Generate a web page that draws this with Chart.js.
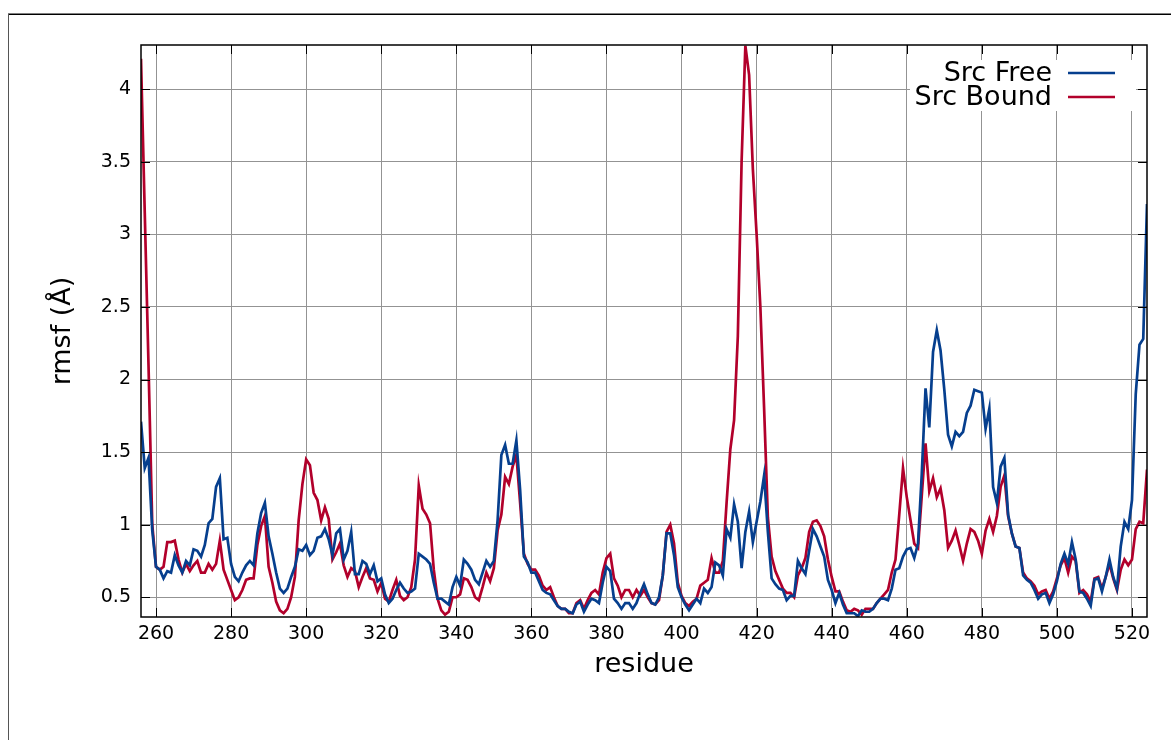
<!DOCTYPE html>
<html><head><meta charset="utf-8">
<script src="https://cdn.jsdelivr.net/npm/chart.js@4/dist/chart.umd.min.js"></script>
<style>html,body{margin:0;padding:0;background:#fff;}canvas{display:block;}</style>
</head><body>
<canvas id="c" width="1171" height="740"></canvas>
<script>
// ---- data ----
const firstResidue = 256;
const srcFree = [
  1.71, 1.39, 1.46, 0.96,
  0.71, 0.69, 0.63, 0.68, 0.67, 0.79, 0.72, 0.67, 0.75, 0.72,
  0.83, 0.82, 0.78, 0.86, 1.01, 1.04, 1.26, 1.32, 0.90, 0.91,
  0.73, 0.64, 0.61, 0.67, 0.72, 0.75, 0.72, 0.94, 1.08, 1.15,
  0.92, 0.80, 0.67, 0.56, 0.53, 0.56, 0.64, 0.71, 0.83, 0.82,
  0.86, 0.79, 0.82, 0.91, 0.92, 0.97, 0.90, 0.79, 0.94, 0.97,
  0.76, 0.82, 0.95, 0.66, 0.66, 0.75, 0.73, 0.66, 0.72, 0.61,
  0.63, 0.52, 0.46, 0.49, 0.55, 0.60, 0.56, 0.53, 0.54, 0.56,
  0.80, 0.78, 0.76, 0.73, 0.60, 0.49, 0.49, 0.47, 0.45, 0.57,
  0.64, 0.58, 0.76, 0.73, 0.69, 0.62, 0.59, 0.67, 0.75, 0.71,
  0.75, 1.03, 1.48, 1.55, 1.42, 1.42, 1.58, 1.24, 0.78, 0.74,
  0.67, 0.67, 0.61, 0.55, 0.53, 0.52, 0.48, 0.44, 0.42, 0.42,
  0.40, 0.39, 0.45, 0.47, 0.40, 0.45, 0.49, 0.48, 0.46, 0.60,
  0.71, 0.68, 0.49, 0.46, 0.42, 0.46, 0.46, 0.42, 0.46, 0.53,
  0.59, 0.52, 0.46, 0.45, 0.50, 0.65, 0.94, 0.94, 0.79, 0.57,
  0.50, 0.45, 0.41, 0.45, 0.49, 0.46, 0.56, 0.53, 0.57, 0.74,
  0.72, 0.65, 0.97, 0.91, 1.14, 1.02, 0.70, 0.95, 1.09, 0.88,
  1.02, 1.16, 1.34, 0.95, 0.63, 0.59, 0.56, 0.55, 0.48, 0.51,
  0.51, 0.75, 0.70, 0.66, 0.82, 0.97, 0.92, 0.85, 0.78, 0.62,
  0.55, 0.46, 0.53, 0.45, 0.39, 0.39, 0.39, 0.37, 0.41, 0.40,
  0.40, 0.42, 0.46, 0.49, 0.49, 0.48, 0.56, 0.69, 0.70, 0.78,
  0.83, 0.84, 0.77, 0.87, 1.35, 1.94, 1.67, 2.19, 2.34, 2.20,
  1.93, 1.62, 1.54, 1.64, 1.61, 1.64, 1.77, 1.82, 1.93, 1.92,
  1.91, 1.66, 1.80, 1.26, 1.15, 1.40, 1.46, 1.07, 0.94, 0.85,
  0.84, 0.65, 0.62, 0.60, 0.55, 0.49, 0.52, 0.53, 0.46, 0.52,
  0.61, 0.73, 0.80, 0.73, 0.88, 0.76, 0.54, 0.53, 0.49, 0.44,
  0.62, 0.63, 0.54, 0.64, 0.76, 0.64, 0.56, 0.85, 1.02, 0.97,
  1.17, 1.90, 2.24, 2.28, 3.21
];
const srcBound = [
  4.21, 3.15, 2.10, 1.00,
  0.71, 0.69, 0.71, 0.88, 0.88, 0.89, 0.76, 0.67, 0.73, 0.68,
  0.72, 0.75, 0.67, 0.67, 0.73, 0.69, 0.73, 0.89, 0.69, 0.62,
  0.55, 0.48, 0.50, 0.55, 0.62, 0.63, 0.63, 0.86, 0.99, 1.06,
  0.71, 0.60, 0.47, 0.41, 0.39, 0.42, 0.50, 0.64, 1.03, 1.28,
  1.45, 1.41, 1.22, 1.17, 1.03, 1.12, 1.04, 0.76, 0.81, 0.87,
  0.72, 0.64, 0.70, 0.68, 0.57, 0.64, 0.70, 0.63, 0.62, 0.54,
  0.60, 0.49, 0.47, 0.55, 0.62, 0.51, 0.48, 0.50, 0.57, 0.76,
  1.27, 1.11, 1.07, 1.01, 0.69, 0.49, 0.41, 0.38, 0.40, 0.50,
  0.50, 0.52, 0.63, 0.62, 0.57, 0.50, 0.48, 0.57, 0.67, 0.61,
  0.70, 0.96, 1.07, 1.33, 1.28, 1.40, 1.48, 1.15, 0.80, 0.73,
  0.69, 0.69, 0.65, 0.58, 0.55, 0.57, 0.50, 0.44, 0.42, 0.42,
  0.39, 0.39, 0.46, 0.48, 0.42, 0.48, 0.53, 0.55, 0.52, 0.67,
  0.77, 0.80, 0.63, 0.58, 0.50, 0.55, 0.55, 0.50, 0.55, 0.51,
  0.55, 0.50, 0.46, 0.45, 0.48, 0.65, 0.95, 1.00, 0.87, 0.60,
  0.51, 0.46, 0.44, 0.47, 0.49, 0.58, 0.60, 0.62, 0.77, 0.67,
  0.67, 0.75, 1.15, 1.52, 1.72, 2.30, 3.50, 4.30, 4.10, 3.45,
  3.00, 2.50, 1.80, 1.05, 0.78, 0.68, 0.62, 0.56, 0.53, 0.53,
  0.50, 0.65, 0.70, 0.77, 0.95, 1.02, 1.03, 0.99, 0.92, 0.76,
  0.64, 0.54, 0.54, 0.47, 0.41, 0.40, 0.42, 0.41, 0.38, 0.42,
  0.42, 0.42, 0.46, 0.49, 0.52, 0.55, 0.67, 0.76, 1.07, 1.39,
  1.19, 1.03, 0.87, 0.84, 1.20, 1.56, 1.23, 1.32, 1.19, 1.25,
  1.10, 0.84, 0.89, 0.96, 0.86, 0.75, 0.87, 0.97, 0.95, 0.89,
  0.80, 0.96, 1.04, 0.95, 1.06, 1.26, 1.34, 1.06, 0.94, 0.85,
  0.84, 0.67, 0.63, 0.61, 0.58, 0.52, 0.54, 0.55, 0.49, 0.54,
  0.63, 0.72, 0.77, 0.67, 0.78, 0.75, 0.53, 0.55, 0.52, 0.47,
  0.63, 0.64, 0.56, 0.64, 0.73, 0.63, 0.55, 0.69, 0.76, 0.72,
  0.76, 0.97, 1.02, 1.01, 1.38
];
const residues = srcFree.map((_, i) => firstResidue + i);
const xTickValues = [260, 280, 300, 320, 340, 360, 380, 400, 420, 440, 460, 480, 500, 520];
const yTickValues = [0.5, 1, 1.5, 2, 2.5, 3, 3.5, 4];
const seriesLabels = ['Src Free', 'Src Bound'];
const xAxisTitle = 'residue';
const yAxisTitle = 'rmsf (Å)';
const xRange = [256, 524];
const yRange = [0.364, 4.305];

// ---- style ----
const FONT = 'DejaVu Sans';
const BLUE = '#063f8e';
const RED = '#b2002b';
const GRID = '#939393';

const pageFrame = {
  id: 'pageFrame',
  beforeDraw(chart) {
    const ctx = chart.ctx;
    ctx.save();
    ctx.fillStyle = '#fff';
    ctx.fillRect(0, 0, chart.width, chart.height);
    ctx.strokeStyle = '#000';
    ctx.lineWidth = 1.5;
    ctx.beginPath();
    ctx.moveTo(8, 14.25); ctx.lineTo(chart.width, 14.25);
    ctx.stroke();
    ctx.strokeStyle = '#555';
    ctx.lineWidth = 1;
    ctx.beginPath();
    ctx.moveTo(8.5, 14); ctx.lineTo(8.5, chart.height);
    ctx.stroke();
    ctx.restore();
  }
};

const borderTicks = {
  id: 'borderTicks',
  afterDatasetsDraw(chart) {
    const {ctx, chartArea: a, scales: {x, y}} = chart;
    ctx.save();
    ctx.strokeStyle = '#000';
    ctx.lineWidth = 1;
    ctx.beginPath();
    const L = 9;
    for (const t of x.ticks) {
      const px = Math.round(x.getPixelForValue(t.value)) + 0.5;
      ctx.moveTo(px, a.bottom); ctx.lineTo(px, a.bottom - L);
      ctx.moveTo(px, a.top); ctx.lineTo(px, a.top + L);
    }
    for (const t of y.ticks) {
      const py = Math.round(y.getPixelForValue(t.value)) + 0.5;
      ctx.moveTo(a.left, py); ctx.lineTo(a.left + L, py);
      ctx.moveTo(a.right, py); ctx.lineTo(a.right - L, py);
    }
    ctx.stroke();
    ctx.lineWidth = 1.5;
    ctx.strokeRect(a.left, a.top, a.right - a.left, a.bottom - a.top);
    ctx.restore();
  }
};

const keyBox = {
  id: 'keyBox',
  afterDraw(chart) {
    const {ctx, chartArea: a} = chart;
    ctx.save();
    ctx.fillStyle = '#fff';
    ctx.fillRect(a.right - 237, a.top + 15, 226, 51);
    ctx.font = '27px "' + FONT + '"';
    ctx.textAlign = 'right';
    ctx.textBaseline = 'middle';
    chart.data.datasets.forEach((ds, i) => {
      const yy = a.top + 28 + i * 24;
      ctx.fillStyle = '#000';
      ctx.fillText(ds.label, a.right - 95, yy + 1);
      ctx.strokeStyle = ds.borderColor;
      ctx.lineWidth = 2.6;
      ctx.beginPath();
      ctx.moveTo(a.right - 79, yy); ctx.lineTo(a.right - 32, yy);
      ctx.stroke();
    });
    ctx.restore();
  }
};

function pts(vals) { return vals.map((v, i) => ({x: residues[i], y: v})); }

new Chart(document.getElementById('c'), {
  type: 'line',
  data: {
    datasets: [
      {label: seriesLabels[0], data: pts(srcFree), borderColor: BLUE, backgroundColor: BLUE,
       borderWidth: 2.7, pointRadius: 0, tension: 0, fill: false},
      {label: seriesLabels[1], data: pts(srcBound), borderColor: RED, backgroundColor: RED,
       borderWidth: 2.7, pointRadius: 0, tension: 0, fill: false}
    ]
  },
  options: {
    responsive: false,
    animation: false,
    devicePixelRatio: 1,
    layout: {padding: {left: 0, right: 24, top: 45, bottom: 0}},
    plugins: {legend: {display: false}, tooltip: {enabled: false}},
    scales: {
      x: {
        type: 'linear', min: xRange[0], max: xRange[1],
        afterBuildTicks: s => { s.ticks = xTickValues.map(v => ({value: v})); },
        afterFit: s => { s.height = 123; s.paddingLeft = 0; s.paddingRight = 0; },
        grid: {color: GRID, lineWidth: 1, drawTicks: false},
        border: {display: false},
        ticks: {color: '#000', font: {family: FONT, size: 19}, padding: 6, maxRotation: 0,
                autoSkip: false, callback: v => String(v)},
        title: {display: true, text: xAxisTitle, color: '#000',
                font: {family: FONT, size: 27}, padding: {top: 0, bottom: 59}}
      },
      y: {
        type: 'linear', min: yRange[0], max: yRange[1],
        afterBuildTicks: s => { s.ticks = yTickValues.map(v => ({value: v})); },
        afterFit: s => { s.width = 141; s.paddingTop = 0; s.paddingBottom = 0; },
        grid: {color: GRID, lineWidth: 1, drawTicks: false},
        border: {display: false},
        ticks: {color: '#000', font: {family: FONT, size: 19}, padding: 10,
                autoSkip: false, callback: v => String(v)},
        title: {display: true, text: yAxisTitle, color: '#000',
                font: {family: FONT, size: 27}, padding: {top: 47, bottom: 0}}
      }
    }
  },
  plugins: [pageFrame, borderTicks, keyBox]
});
</script>
</body></html>
